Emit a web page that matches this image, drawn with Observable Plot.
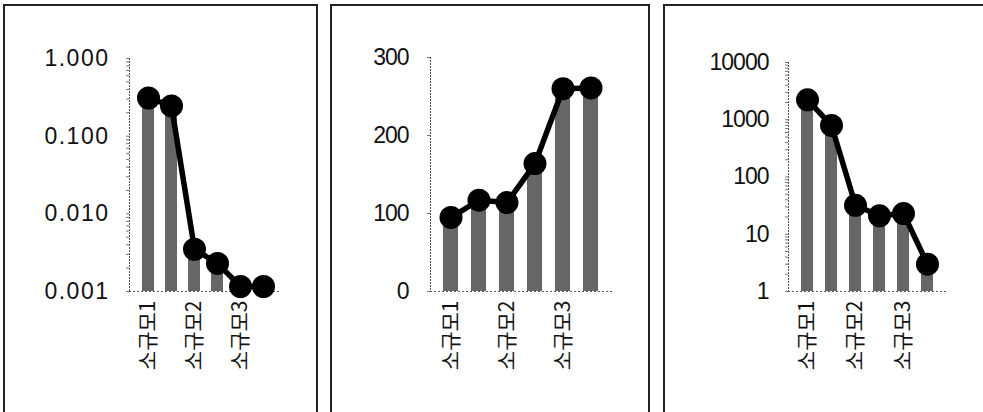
<!DOCTYPE html>
<html>
<head>
<meta charset="utf-8">
<script src="https://cdn.jsdelivr.net/npm/d3@7"></script>
<script src="https://cdn.jsdelivr.net/npm/@observablehq/plot@0.6"></script>
<style>
  html, body { margin: 0; padding: 0; background: #fff; width: 983px; height: 412px; overflow: hidden; }
  .panel { position: absolute; top: 4px; height: 430px; border-left: 2px solid #222; border-top: 2px solid #222; border-right: 2px solid #222; box-sizing: border-box; }
  .plot { position: absolute; top: 0; }
  svg { overflow: visible; }
</style>
</head>
<body>
<div class="panel" style="left:3px;width:315px"></div>
<div class="panel" style="left:330px;width:320px"></div>
<div class="panel" style="left:663px;width:330px"></div>
<div id="p1" class="plot" style="left:5px"></div>
<div id="p2" class="plot" style="left:333px"></div>
<div id="p3" class="plot" style="left:666px"></div>
<script>
// Categories (six groups; labels shown only on every other one)
const categories = [0, 1, 2, 3, 4, 5];
const categoryLabels = ["소규모1", "", "소규모2", "", "소규모3", ""];

// Series values for each panel
const panel1Values = [0.31, 0.245, 0.0035, 0.0023, 0.00116, 0.00116];
const panel2Values = [95, 117, 114, 164, 260, 261];
const panel3Values = [2230, 795, 32, 21, 23, 3.0];

// Tick values / labels
const panel1Ticks = [0.001, 0.01, 0.1, 1];
const panel1TickLabels = ["0.001", "0.010", "0.100", "1.000"];
const panel2Ticks = [0, 100, 200, 300];
const panel2TickLabels = ["0", "100", "200", "300"];
const panel3Ticks = [1, 10, 100, 1000, 10000];
const panel3TickLabels = ["1", "10", "100", "1000", "10000"];

const barFill = "#666";
const numFont = "'Liberation Sans', Arial, sans-serif";
const krFont = "'Noto Sans CJK KR', sans-serif";

function panel({values, type, domain, base, ticks, tickLabels, width, marginLeft, marginRight, marginTop, padding, letterSpacing, tickPad}) {
  const rows = categories.map((c, i) => ({c, v: values[i]}));
  const isLog = type === "log";
  const marks = [
    Plot.barY(rows, {x: "c", y1: () => base, y2: "v", fill: barFill}),
    Plot.frame({anchor: "left", stroke: "#555", strokeDasharray: "1,2"}),
    Plot.frame({anchor: "bottom", stroke: "#555", strokeDasharray: "1,3"}),
    Plot.axisY({ticks: isLog ? 40 : ticks, text: null, tickSize: 3, stroke: "#777", label: null}),
    Plot.axisY({ticks, tickFormat: (d) => tickLabels[ticks.indexOf(d)], tickSize: 0, tickPadding: tickPad,
      fontSize: 23, fill: "#111", fontFamily: numFont, label: null}),
    Plot.axisX({tickSize: 0, tickRotate: -90, tickPadding: 9, tickFormat: (i) => categoryLabels[i],
      fontSize: 21, fontFamily: krFont, fill: "#111", label: null}),
    Plot.line(rows, {x: "c", y: "v", stroke: "#000", strokeWidth: 5.5}),
    Plot.dot(rows, {x: "c", y: "v", r: 11.5, fill: "#000", stroke: "none"})
  ];
  const chart = Plot.plot({
    width, height: 412,
    marginLeft, marginRight, marginTop, marginBottom: 121,
    style: {background: "transparent", overflow: "visible"},
    x: {type: "band", domain: categories, padding, align: 0.5, label: null},
    y: {type, domain, label: null},
    marks
  });
  chart.querySelectorAll("g[aria-label='y-axis tick label'] text").forEach(t => t.setAttribute("letter-spacing", letterSpacing));
  return chart;
}

document.getElementById("p1").appendChild(panel({
  values: panel1Values, type: "log", domain: [0.001, 1], base: 0.001,
  ticks: panel1Ticks, tickLabels: panel1TickLabels,
  width: 311, marginLeft: 124, marginRight: 35, marginTop: 58, padding: 0.48, letterSpacing: "1.5px", tickPad: 20
}));
document.getElementById("p2").appendChild(panel({
  values: panel2Values, type: "linear", domain: [0, 300], base: 0,
  ticks: panel2Ticks, tickLabels: panel2TickLabels,
  width: 313, marginLeft: 97, marginRight: 34, marginTop: 57, padding: 0.45, letterSpacing: "-1px", tickPad: 22
}));
document.getElementById("p3").appendChild(panel({
  values: panel3Values, type: "log", domain: [1, 10000], base: 1,
  ticks: panel3Ticks, tickLabels: panel3TickLabels,
  width: 317, marginLeft: 122, marginRight: 37, marginTop: 62, padding: 0.5, letterSpacing: "-1px", tickPad: 20
}));
</script>
</body>
</html>
